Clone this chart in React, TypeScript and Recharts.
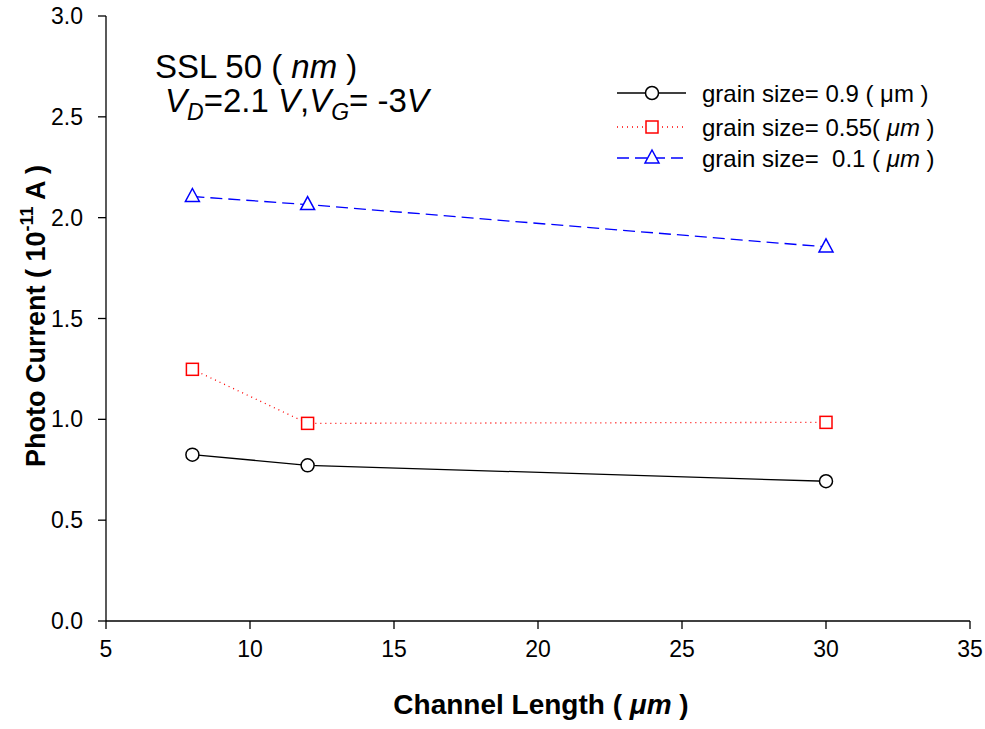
import { CartesianGrid, Line, LineChart, XAxis, YAxis } from "recharts"

const channelLengths = [8, 12, 30]
const grain09 = [0.825, 0.772, 0.693]
const grain055 = [1.248, 0.98, 0.985]
const grain01 = [2.105, 2.065, 1.855]

const xTicks = [5, 10, 15, 20, 25, 30, 35]
const yTicks = [0, 0.5, 1, 1.5, 2, 2.5, 3]

const data = channelLengths.map((len, i) => ({
  len,
  g09: grain09[i],
  g055: grain055[i],
  g01: grain01[i],
}))

const font = "'Liberation Sans', Arial, sans-serif"

const SquareDot = (props: any) => {
  const { cx, cy } = props
  if (cx == null || cy == null) return null
  return <rect x={cx - 6} y={cy - 6} width={12} height={12} fill="white" stroke="#ff0000" strokeWidth={1.5} />
}

const TriangleDot = (props: any) => {
  const { cx, cy } = props
  if (cx == null || cy == null) return null
  return (
    <path
      d={`M${cx},${cy - 8} L${cx + 7},${cy + 5} L${cx - 7},${cy + 5} Z`}
      fill="white"
      stroke="#0000ff"
      strokeWidth={1.5}
    />
  )
}

function LegendBlock() {
  const rows = [
    { y: 93, stroke: "#000", dash: undefined, marker: "circle", label: <>grain size= 0.9 ( μm )</> },
    {
      y: 127,
      stroke: "#ff0000",
      dash: "1 4",
      marker: "square",
      label: (
        <>
          grain size= 0.55( <tspan fontStyle="italic">μm</tspan> )
        </>
      ),
    },
    {
      y: 158,
      stroke: "#0000ff",
      dash: "12 6",
      marker: "triangle",
      label: (
        <>
          grain size=  0.1 ( <tspan fontStyle="italic">μm</tspan> )
        </>
      ),
    },
  ]
  return (
    <g>
      {rows.map((r, i) => (
        <g key={i}>
          <line x1={617} x2={686} y1={r.y} y2={r.y} stroke={r.stroke} strokeWidth={1.3} strokeDasharray={r.dash} />
          {r.marker === "circle" && <circle cx={652} cy={r.y} r={6.5} fill="white" stroke="#000" strokeWidth={1.5} />}
          {r.marker === "square" && <SquareDot cx={652} cy={r.y} />}
          {r.marker === "triangle" && <TriangleDot cx={652} cy={r.y} />}
          <text x={702} y={r.y + 9} fontSize={24} fontFamily={font} fill="#000" xmlSpace="preserve">
            {r.label}
          </text>
        </g>
      ))}
    </g>
  )
}

export default function App() {
  return (
    <div style={{ position: "absolute", left: 0, top: 0, width: 985, height: 729, background: "white" }}>
      <LineChart
        width={985}
        height={729}
        data={data}
        margin={{ top: 16, right: 15, bottom: 68, left: 0 }}
        style={{ fontFamily: font }}
      >
        <CartesianGrid stroke="none" />
        <XAxis
          dataKey="len"
          type="number"
          domain={[5, 35]}
          ticks={xTicks}
          height={40}
          stroke="#000"
          strokeWidth={1.3}
          tickSize={8}
          tick={{ fill: "#000", fontSize: 23, fontFamily: font }}
          tickMargin={12}
        />
        <YAxis
          type="number"
          domain={[0, 3]}
          ticks={yTicks}
          width={106}
          stroke="#000"
          strokeWidth={1.3}
          tickSize={8}
          tick={{ fill: "#000", fontSize: 23, fontFamily: font }}
          tickFormatter={(v: number) => v.toFixed(1)}
          tickMargin={15}
        />
        <Line
          dataKey="g09"
          stroke="#000"
          strokeWidth={1.3}
          dot={{ r: 6.5, fill: "white", stroke: "#000", strokeWidth: 1.5 }}
          isAnimationActive={false}
        />
        <Line
          dataKey="g055"
          stroke="#ff0000"
          strokeWidth={1.3}
          strokeDasharray="1 4"
          dot={<SquareDot />}
          isAnimationActive={false}
        />
        <Line
          dataKey="g01"
          stroke="#0000ff"
          strokeWidth={1.3}
          strokeDasharray="12 6"
          dot={<TriangleDot />}
          isAnimationActive={false}
        />
      </LineChart>
      <svg width={985} height={729} style={{ position: "absolute", left: 0, top: 0, pointerEvents: "none" }}>
        <text x={155} y={78} fontSize={33} fontFamily={font} fill="#000" xmlSpace="preserve">
          SSL 50 ( <tspan fontStyle="italic">nm</tspan> )
        </text>
        <text x={165} y={112} fontSize={33} fontFamily={font} fill="#000" xmlSpace="preserve">
          <tspan fontStyle="italic">V</tspan>
          <tspan fontStyle="italic" fontSize={23} dy={8}>D</tspan>
          <tspan dy={-8}>=2.1</tspan>
          <tspan fontStyle="italic"> V</tspan>
          <tspan>,</tspan>
          <tspan fontStyle="italic">V</tspan>
          <tspan fontStyle="italic" fontSize={23} dy={8}>G</tspan>
          <tspan dy={-8}>= -3</tspan>
          <tspan fontStyle="italic">V</tspan>
        </text>
        <LegendBlock />
        <text
          x={541}
          y={714}
          textAnchor="middle"
          fontSize={28}
          fontWeight="bold"
          fontFamily={font}
          fill="#000"
          xmlSpace="preserve"
        >
          Channel Length ( <tspan fontStyle="italic">μm</tspan> )
        </text>
        <text
          transform="translate(45,316) rotate(-90)"
          textAnchor="middle"
          fontSize={27}
          fontWeight="bold"
          fontFamily={font}
          fill="#000"
          xmlSpace="preserve"
        >
          Photo Current ( 10<tspan fontSize={18} dy={-12}>-11</tspan>
          <tspan dy={12}> A )</tspan>
        </text>
      </svg>
    </div>
  )
}
